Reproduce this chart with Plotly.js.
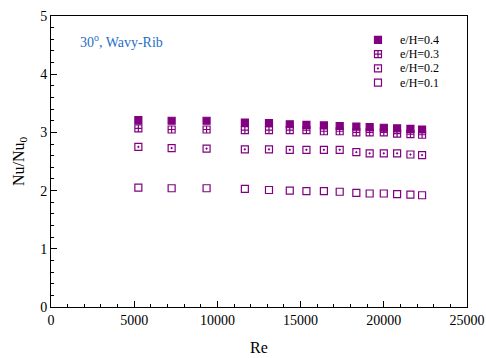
<!DOCTYPE html>
<html>
<head>
<meta charset="utf-8">
<script src="https://cdn.plot.ly/plotly-3.0.1.min.js"></script>
<style>html,body{margin:0;padding:0;background:#fff;}#chart{width:486px;height:358px;}</style>
</head>
<body>
<div id="chart"></div>
<script>
const re = [5250, 7250, 9350, 11650, 13100, 14350, 15350, 16400, 17350, 18350, 19150, 20000, 20800, 21600, 22300];
const nu04 = [3.21, 3.20, 3.20, 3.17, 3.16, 3.14, 3.13, 3.12, 3.11, 3.10, 3.09, 3.08, 3.07, 3.06, 3.05];
const nu03 = [3.07, 3.05, 3.05, 3.04, 3.04, 3.04, 3.04, 3.02, 3.02, 3.00, 3.00, 3.00, 2.98, 2.97, 2.96];
const nu02 = [2.75, 2.73, 2.72, 2.71, 2.71, 2.70, 2.70, 2.70, 2.70, 2.66, 2.64, 2.64, 2.64, 2.62, 2.61];
const nu01 = [2.05, 2.04, 2.04, 2.03, 2.01, 2.00, 1.99, 1.99, 1.98, 1.96, 1.95, 1.95, 1.94, 1.93, 1.92];
const seriesNames = ["e/H=0.4", "e/H=0.3", "e/H=0.2", "e/H=0.1"];

const purple = "#800080";
const symbols = ["square", "square-cross-open", "square-open-dot", "square-open"];
const ys = [nu04, nu03, nu02, nu01];
const serif = "'Liberation Serif', 'Times New Roman', serif";

const traces = ys.map((y, i) => ({
  x: re, y: y, name: seriesNames[i], type: "scatter", mode: "markers", showlegend: false,
  marker: {symbol: symbols[i], size: 7, color: purple, line: {color: purple, width: 1.2}}
}));

// legend key drawn on an overlay axis pair spanning the plot area (0..1)
const legX = 0.786, legTextX = 0.834;
const legY = [0.918, 0.869, 0.820, 0.771];
traces.push({
  x: legY.map(() => legX), y: legY, xaxis: "x2", yaxis: "y2", type: "scatter", mode: "markers",
  showlegend: false, hoverinfo: "skip",
  marker: {symbol: symbols, size: 7, color: purple, line: {color: purple, width: 1.2}}
});

const annotations = seriesNames.map((n, i) => ({
  text: n, x: legTextX, y: legY[i], xref: "x2", yref: "y2", xanchor: "left", yanchor: "middle",
  showarrow: false, font: {family: serif, size: 12, color: "#000"}
}));
annotations.push({text: "30<sup>o</sup>, Wavy-Rib", x: 0.065, y: 0.914, xref: "paper", yref: "paper",
  xanchor: "left", yanchor: "middle", showarrow: false,
  font: {family: serif, size: 14, color: "#1f6fc8"}});

const layout = {
  width: 486, height: 358,
  margin: {l: 51, r: 19, t: 16, b: 51},
  paper_bgcolor: "#fff", plot_bgcolor: "#fff",
  font: {family: serif, size: 14, color: "#000"},
  showlegend: false,
  xaxis: {range: [0, 25000], dtick: 5000, tick0: 0, tickformat: "d", ticks: "inside", ticklen: 6, tickcolor: "#000",
    showline: true, linecolor: "#000", linewidth: 1, mirror: true, showgrid: false, zeroline: false,
    minor: {dtick: 1000, ticks: "inside", ticklen: 3, tickcolor: "#000", showgrid: false},
    tickfont: {family: serif, size: 14},
    title: {text: "Re", font: {family: serif, size: 16}, standoff: 15}},
  yaxis: {range: [0, 5], dtick: 1, tick0: 0, ticks: "inside", ticklen: 6, tickcolor: "#000",
    showline: true, linecolor: "#000", linewidth: 1, mirror: true, showgrid: false, zeroline: false,
    minor: {dtick: 0.2, ticks: "inside", ticklen: 3, tickcolor: "#000", showgrid: false},
    tickfont: {family: serif, size: 14},
    title: {text: "Nu/Nu<sub>0</sub>", font: {family: serif, size: 16}, standoff: 11}},
  xaxis2: {overlaying: "x", range: [0, 1], visible: false, fixedrange: true},
  yaxis2: {overlaying: "y", range: [0, 1], visible: false, fixedrange: true},
  annotations: annotations
};

Plotly.newPlot("chart", traces, layout, {staticPlot: true});
</script>
</body>
</html>
